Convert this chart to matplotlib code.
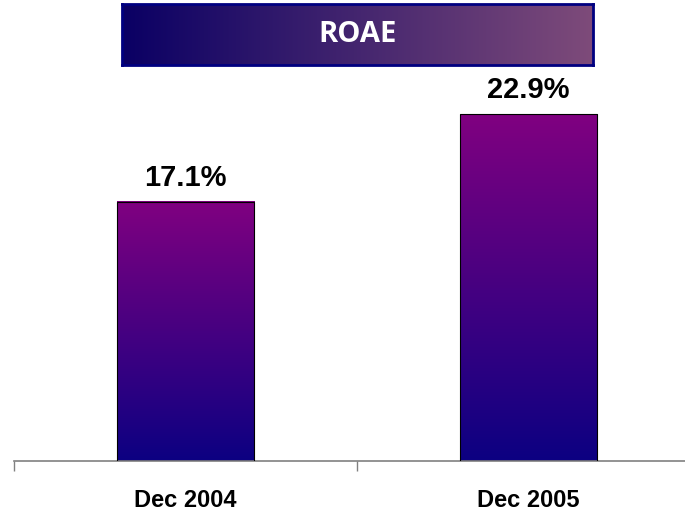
import numpy as np
import matplotlib
matplotlib.use("Agg")
import matplotlib.pyplot as plt
from matplotlib.colors import LinearSegmentedColormap
from matplotlib.patches import Rectangle

# data
categories = ["Dec 2004", "Dec 2005"]
values = [17.1, 22.9]
value_labels = ["17.1%", "22.9%"]
title = "ROAE"

W, H = 685, 511
fig = plt.figure(figsize=(W / 100, H / 100), dpi=100)

# main axes (spans slightly past the right edge like the original)
ax = fig.add_axes([14 / W, 50 / H, 686 / W, 381 / H])

bar_cmap = LinearSegmentedColormap.from_list("bar", ["#0c0082", "#800080"])
grad = np.linspace(0, 1, 256).reshape(-1, 1)
bar_w = 0.4
for i, v in enumerate(values):
    x0 = i - bar_w / 2
    ax.imshow(grad, cmap=bar_cmap, origin="lower", aspect="auto",
              extent=[x0, x0 + bar_w, 0, v], zorder=2)
    ax.add_patch(Rectangle((x0, 0), bar_w, v, fill=False,
                           edgecolor="black", linewidth=0.8, zorder=3))
    ax.annotate(value_labels[i], (i, v), xytext=(0, 7), textcoords="offset points",
                ha="center", va="bottom", fontsize=21, fontweight="bold",
                family="Liberation Sans", color="black")

ax.set_xlim(-0.5, 1.5)
ax.set_ylim(0, 381 / 15.15)

for s in ["top", "right", "left"]:
    ax.spines[s].set_visible(False)
ax.spines["bottom"].set_color("#808080")
ax.spines["bottom"].set_linewidth(1.2)
ax.set_yticks([])
ax.set_xticks([0, 1])
ax.set_xticklabels(categories, fontsize=17, fontweight="bold", family="Liberation Sans")
ax.tick_params(axis="x", which="major", length=0, pad=20)
ax.set_xticks([-0.5, 0.5, 1.5], minor=True)
ax.tick_params(axis="x", which="minor", length=7, width=1, color="#808080", direction="out")

# title banner with horizontal gradient
tax = fig.add_axes([122 / W, (H - 65) / H, 471 / W, 61 / H])
title_cmap = LinearSegmentedColormap.from_list("title", ["#0a0064", "#7e4b7a"])
tax.imshow(np.linspace(0, 1, 256).reshape(1, -1), cmap=title_cmap, aspect="auto",
           extent=[0, 1, 0, 1])
tax.set_xlim(0, 1)
tax.set_ylim(0, 1)
tax.set_xticks([])
tax.set_yticks([])
for s in tax.spines.values():
    s.set_color("#000080")
    s.set_linewidth(2)
tax.text(0.5, 0.5, title, ha="center", va="center", color="white",
         fontsize=21, fontweight="bold", family="Open Sans")

fig.savefig("out.png", dpi=100)
